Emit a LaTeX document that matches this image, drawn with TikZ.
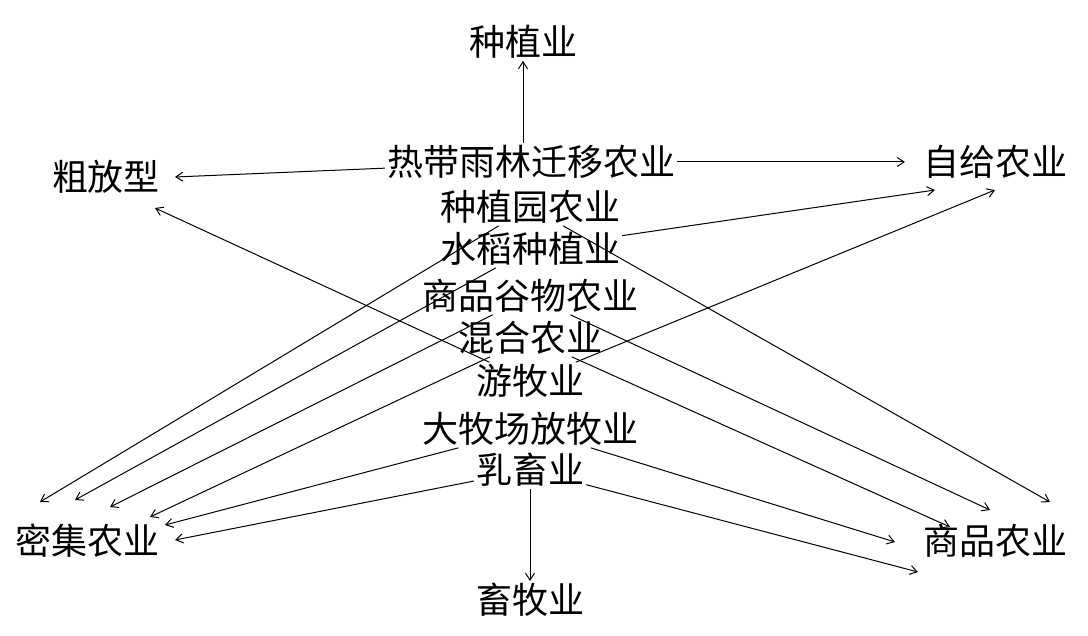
\documentclass[tikz,border=0pt]{standalone}
\usepackage{fontspec}
\setmainfont{Noto Sans CJK SC}
\usetikzlibrary{positioning,arrows.meta}
\tikzset{
    term/.style={inner sep=2pt,font=\fontsize{36}{36}\selectfont},
    link/.style={-{Straight Barb[length=7pt,width=9pt]},line width=1pt}
}
\begin{document}
\begin{tikzpicture}[x=1pt,y=-1pt]
    \useasboundingbox (0,0) rectangle (1088,636);
    %% Middle column
    \node[term] (zzy) at (523,42)  {种植业};
    \node[term] (rd)  at (531,162) {热带雨林迁移农业};
    \node[term] (zzyn) at (530,207) {种植园农业};
    \node[term] (sd)  at (530,249) {水稻种植业};
    \node[term] (gw)  at (530,296) {商品谷物农业};
    \node[term] (hh)  at (530,338) {混合农业};
    \node[term] (ym)  at (530,381) {游牧业};
    \node[term] (dmc) at (530,429) {大牧场放牧业};
    \node[term] (rx)  at (530,470) {乳畜业};
    \node[term] (xmy) at (530,600) {畜牧业};
    %% Corners
    \node[term] (cf) at (106,177) {粗放型};
    \node[term] (zg) at (995,162) {自给农业};
    \node[term] (mj) at (88,541)  {密集农业};
    \node[term] (sp) at (995,541) {商品农业};
    %% Arrow ends
    \coordinate (cfA) at (175,177);
    \coordinate (cfB) at (155,208);
    \coordinate (zgA) at (905,162);
    \coordinate (zgB) at (935,190);
    \coordinate (zgC) at (995,190);
    \coordinate (mjA) at (40,502);
    \coordinate (mjB) at (75,500);
    \coordinate (mjC) at (110,507);
    \coordinate (mjD) at (150,517);
    \coordinate (mjE) at (165,525);
    \coordinate (mjF) at (175,540);
    \coordinate (spA) at (1050,502);
    \coordinate (spB) at (990,510);
    \coordinate (spC) at (950,527);
    \coordinate (spD) at (895,542);
    \coordinate (spE) at (918,572);
    %% Arrows
    \draw[link] ([xshift=-8pt]rd.north) -- (zzy);
    \draw[link] (rx) -- (xmy);
    \draw[link] (rd) -- (cfA);
    \draw[link] (rd) -- (zgA);
    \draw[link] (zzyn) -- (mjA);
    \draw[link] (zzyn) -- (spA);
    \draw[link] (sd) -- (mjB);
    \draw[link] (sd) -- (zgB);
    \draw[link] (gw) -- (mjC);
    \draw[link] (gw) -- (spB);
    \draw[link] (hh) -- (mjD);
    \draw[link] (hh) -- (spC);
    \draw[link] (ym) -- (cfB);
    \draw[link] (ym) -- (zgC);
    \draw[link] (dmc) -- (mjE);
    \draw[link] (dmc) -- (spD);
    \draw[link] (rx) -- (mjF);
    \draw[link] (rx) -- (spE);
\end{tikzpicture}
\end{document}
